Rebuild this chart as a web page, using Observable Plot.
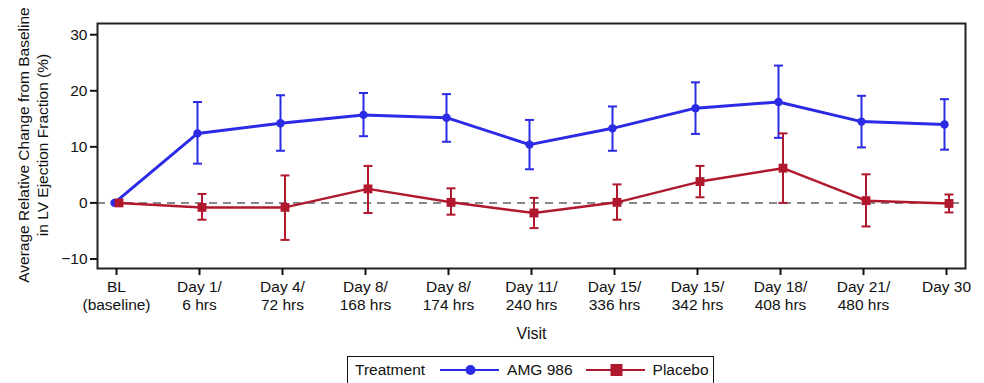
<!DOCTYPE html>
<html>
<head>
<meta charset="utf-8">
<script src="https://cdn.jsdelivr.net/npm/d3@7"></script>
<script src="https://cdn.jsdelivr.net/npm/@observablehq/plot@0.6"></script>
<style>
  html, body { margin: 0; padding: 0; background: #fff; }
  #wrap { position: relative; width: 984px; height: 383px; overflow: hidden; font-family: "Liberation Sans", Arial, sans-serif; }
  #legend { position: absolute; left: 347px; top: 356px; width: 367px; height: 34px; border: 1.5px solid #111; box-sizing: border-box; display: flex; align-items: center; padding-bottom: 6px; font-size: 15.5px; color: #111; white-space: nowrap; }
  #legend .item { display: flex; align-items: center; flex: none; }
  #legend svg { display: block; flex: none; }
</style>
</head>
<body>
<div id="wrap"><div id="chart"></div><div id="legend"></div></div>
<script>
const visits = ["BL\n(baseline)", "Day 1/\n6 hrs", "Day 4/\n72 hrs", "Day 8/\n168 hrs", "Day 8/\n174 hrs", "Day 11/\n240 hrs", "Day 15/\n336 hrs", "Day 15/\n342 hrs", "Day 18/\n408 hrs", "Day 21/\n480 hrs", "Day 30"];
const amgMean = [0, 12.4, 14.2, 15.7, 15.2, 10.4, 13.3, 16.9, 18.0, 14.5, 14.0];
const amgLow  = [0, 7.0, 9.3, 11.9, 10.9, 6.0, 9.3, 12.3, 11.6, 9.9, 9.5];
const amgHigh = [0, 18.0, 19.2, 19.6, 19.4, 14.8, 17.2, 21.5, 24.5, 19.1, 18.5];
const plaMean = [0, -0.8, -0.8, 2.5, 0.1, -1.8, 0.1, 3.8, 6.2, 0.4, -0.1];
const plaLow  = [0, -3.0, -6.6, -1.8, -2.1, -4.5, -3.0, 1.0, 0.0, -4.2, -1.7];
const plaHigh = [0, 1.6, 4.9, 6.6, 2.6, 0.9, 3.3, 6.6, 12.4, 5.1, 1.5];
const yTicks = [-10, 0, 10, 20, 30];
const treatments = ["AMG 986", "Placebo"];
const colors = ["#2b2be6", "#b0182e"];

const amg = visits.map((v, i) => ({visit: v, mean: amgMean[i], low: amgLow[i], high: amgHigh[i]}));
const pla = visits.map((v, i) => ({visit: v, mean: plaMean[i], low: plaLow[i], high: plaHigh[i]}));
const hasErr = d => d.high !== d.low;

// horizontal cap symbol: half-width equals the dot radius
const capSymbol = {
  draw(context, size) {
    const w = Math.sqrt(size / Math.PI);
    context.moveTo(-w, 0);
    context.lineTo(w, 0);
  }
};

function seriesMarks(data, color, symbol, r, dx, lw) {
  const err = data.filter(hasErr);
  return [
    Plot.ruleX(err, {x: "visit", y1: "low", y2: "high", stroke: color, strokeWidth: 2, dx}),
    Plot.dot(err, {x: "visit", y: "low", stroke: color, fill: "none", strokeWidth: 2, symbol: capSymbol, r: 4.5, dx}),
    Plot.dot(err, {x: "visit", y: "high", stroke: color, fill: "none", strokeWidth: 2, symbol: capSymbol, r: 4.5, dx}),
    Plot.line(data, {x: "visit", y: "mean", stroke: color, strokeWidth: lw, dx}),
    Plot.dot(data, {x: "visit", y: "mean", fill: color, stroke: "none", symbol, r, dx})
  ];
}

const chart = Plot.plot({
  width: 984,
  height: 383,
  marginLeft: 97,
  marginRight: 19,
  marginTop: 23,
  marginBottom: 115,
  style: {fontFamily: "'Liberation Sans', Arial, sans-serif", fontSize: "15.5px", color: "#111", background: "#fff"},
  x: {type: "point", domain: visits, padding: 0.2},
  y: {domain: [-11.7, 32]},
  marks: [
    Plot.ruleY([0], {stroke: "#888", strokeWidth: 2, strokeDasharray: "8,6"}),
    ...seriesMarks(amg, colors[0], "circle", 4.2, -2, 3),
    ...seriesMarks(pla, colors[1], "square", 5, 2.5, 2.5),
    Plot.frame({stroke: "#222", strokeWidth: 2}),
    Plot.axisY({ticks: yTicks, tickSize: 7, tickPadding: 3, label: null, fontSize: 15.5, strokeWidth: 2}),
    Plot.axisX({tickSize: 7, tickPadding: 4, label: null, fontSize: 15.5, lineHeight: 1.15, strokeWidth: 2}),
    Plot.text(["Visit"], {frameAnchor: "bottom", dy: 70, text: d => d, fontSize: 16}),
    Plot.text(["Average Relative Change from Baseline\nin LV Ejection Fraction (%)"], {frameAnchor: "left", textAnchor: "middle", dx: -65, dy: -1, rotate: -90, text: d => d, fontSize: 15.5, lineHeight: 1.2})
  ]
});
document.getElementById("chart").appendChild(chart);

// legend
const legend = d3.select("#legend");
legend.append("span").text("Treatment").style("margin-left", "7px").style("margin-right", "15px");
treatments.forEach((t, i) => {
  const item = legend.append("span").attr("class", "item");
  const s = item.append("svg").attr("width", 59).attr("height", 20);
  s.append("line").attr("x1", 0).attr("x2", 59).attr("y1", 10).attr("y2", 10).attr("stroke", colors[i]).attr("stroke-width", 2);
  if (i === 0) s.append("circle").attr("cx", 30.5).attr("cy", 10).attr("r", 5).attr("fill", colors[i]);
  else s.append("rect").attr("x", 24.5).attr("y", 4).attr("width", 12).attr("height", 12).attr("fill", colors[i]);
  item.append("span").text(t).style("margin-left", "8px").style("margin-right", i === 0 ? "13px" : "0");
});
</script>
</body>
</html>
